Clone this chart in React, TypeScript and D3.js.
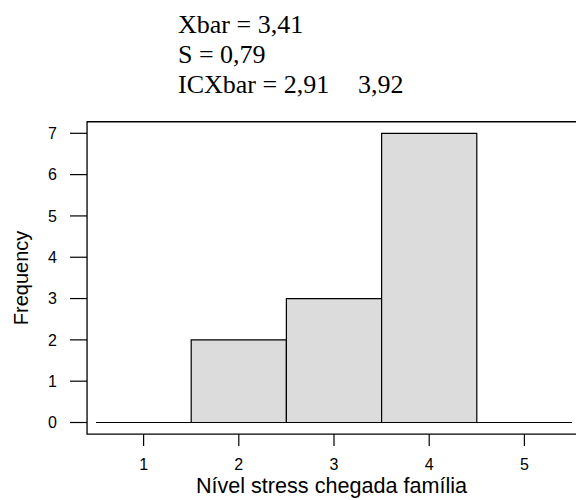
import * as d3 from "d3";
import { useEffect, useRef } from "react";

// histogram bins (bin centre) and counts
const binCenters = [1, 2, 3, 4, 5];
const counts = [0, 2, 3, 7, 0];
const yTicks = [0, 1, 2, 3, 4, 5, 6, 7];
const xTicks = [1, 2, 3, 4, 5];
const statLines = ["Xbar = 3,41", "S = 0,79", "ICXbar = 2,91"];
const ciUpper = "3,92";

const App = () => {
  const svgRef = useRef<SVGSVGElement>(null);

  useEffect(() => {
    const svg = d3.select(svgRef.current);
    svg.selectAll("*").remove();

    const width = 576;
    const height = 500;
    svg.attr("width", width).attr("height", height);

    const x = d3.scaleLinear().domain([0.5, 5.5]).range([96, 572]);
    const y = d3.scaleLinear().domain([0, 7]).range([422.5, 133.3]);

    const sans = "'Liberation Sans', Arial, sans-serif";
    const serif = "'Liberation Serif', 'Times New Roman', serif";

    // stats text on top
    svg
      .append("g")
      .selectAll("text")
      .data(statLines)
      .enter()
      .append("text")
      .attr("x", 178)
      .attr("y", (d, i) => 33 + i * 30)
      .style("font-family", serif)
      .style("font-size", "26px")
      .attr("fill", "#000")
      .text((d) => d);
    svg
      .append("text")
      .attr("x", 358)
      .attr("y", 33 + 2 * 30)
      .style("font-family", serif)
      .style("font-size", "26px")
      .text(ciUpper);

    // bars (zero counts still leave a line on the baseline)
    svg
      .append("g")
      .selectAll("path")
      .data(binCenters)
      .enter()
      .append("path")
      .attr("d", (d, i) => {
        const x0 = x(d - 0.5);
        const x1 = x(d + 0.5);
        const y0 = y(0);
        const y1 = y(counts[i]);
        return `M${x0},${y0}V${y1}H${x1}V${y0}Z`;
      })
      .attr("fill", "#dcdcdc")
      .attr("stroke", "#000")
      .attr("stroke-width", 1.2);

    // box (right side runs off the picture)
    const left = x(0.406);
    const top = y(7.28);
    const bottom = y(-0.28);
    svg
      .append("path")
      .attr("d", `M${width + 5},${top}H${left}V${bottom}H${width + 5}`)
      .attr("fill", "none")
      .attr("stroke", "#000")
      .attr("stroke-width", 1.3);

    // y axis ticks and labels
    const yAxis = svg.append("g");
    yAxis
      .selectAll("line")
      .data(yTicks)
      .enter()
      .append("line")
      .attr("x1", 70)
      .attr("x2", left)
      .attr("y1", (d) => y(d))
      .attr("y2", (d) => y(d))
      .attr("stroke", "#000")
      .attr("stroke-width", 1.2);
    yAxis
      .selectAll("text")
      .data(yTicks)
      .enter()
      .append("text")
      .attr("x", 57)
      .attr("y", (d) => y(d))
      .attr("dy", "0.36em")
      .attr("text-anchor", "end")
      .style("font-family", sans)
      .style("font-size", "16px")
      .text((d) => d);

    // x axis ticks and labels
    const xAxis = svg.append("g");
    xAxis
      .selectAll("line")
      .data(xTicks)
      .enter()
      .append("line")
      .attr("x1", (d) => x(d))
      .attr("x2", (d) => x(d))
      .attr("y1", bottom)
      .attr("y2", bottom + 12)
      .attr("stroke", "#000")
      .attr("stroke-width", 1.2);
    xAxis
      .selectAll("text")
      .data(xTicks)
      .enter()
      .append("text")
      .attr("x", (d) => x(d))
      .attr("y", 470)
      .attr("text-anchor", "middle")
      .style("font-family", sans)
      .style("font-size", "16px")
      .text((d) => d);

    // axis titles
    svg
      .append("text")
      .attr("x", 331.5)
      .attr("y", 493)
      .attr("text-anchor", "middle")
      .style("font-family", sans)
      .style("font-size", "21.6px")
      .text("Nível stress chegada família");

    svg
      .append("text")
      .attr("transform", `translate(28,${(top + bottom) / 2}) rotate(-90)`)
      .attr("text-anchor", "middle")
      .style("font-family", sans)
      .style("font-size", "20px")
      .text("Frequency");
  }, []);

  return (
    <svg
      ref={svgRef}
      style={{ position: "absolute", left: 0, top: 0, display: "block" }}
    ></svg>
  );
};

export default App;
